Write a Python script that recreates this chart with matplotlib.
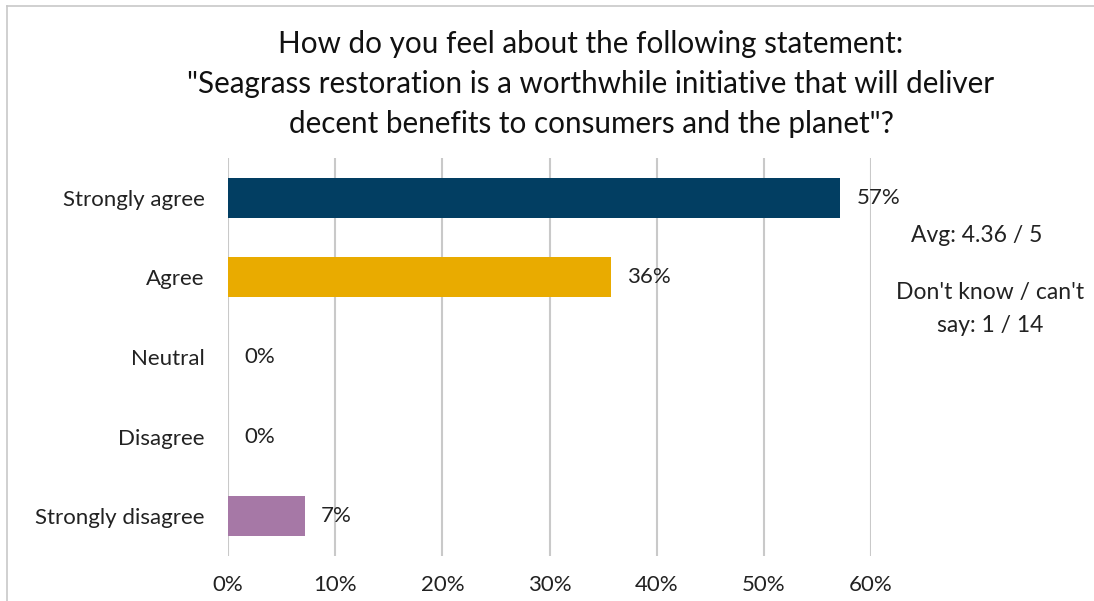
import matplotlib.pyplot as plt
from matplotlib.ticker import PercentFormatter
from matplotlib.lines import Line2D

categories = ['Strongly agree', 'Agree', 'Neutral', 'Disagree', 'Strongly disagree']
values = [57.14, 35.71, 0.0, 0.0, 7.14]
labels = ['57%', '36%', '0%', '0%', '7%']
colors = ['#023E62', '#E9AB00', '#A678A6', '#A678A6', '#A678A6']
ticks = [0, 10, 20, 30, 40, 50, 60]

plt.rcParams['font.family'] = ['Lato', 'DejaVu Sans']

fig = plt.figure(figsize=(10.94, 6.01), dpi=100)
ax = fig.add_axes([228/1094, 1-556/601, (871-228)/1094, (556-158)/601])

y = list(range(len(categories)))
ax.barh(y, values, height=0.5, color=colors, zorder=3)
for yi, v, lab in zip(y, values, labels):
    ax.text(v + 1.5, yi, lab, va='center', ha='left', fontsize=16, color='#222222', zorder=4)

ax.set_xlim(0, 60)
ax.set_ylim(len(categories)-0.5, -0.5)
ax.set_yticks(y)
ax.set_yticklabels(categories, fontsize=16, color='#222222')
ax.set_xticks(ticks)
ax.xaxis.set_major_formatter(PercentFormatter(decimals=0))
ax.tick_params(axis='x', labelsize=16, labelcolor='#222222', length=0, pad=14)
ax.tick_params(axis='y', length=0, pad=17)
ax.grid(axis='x', color='#C9C9C9', linewidth=1.5, zorder=0)
for s in ax.spines.values():
    s.set_visible(False)

fig.text(591/1094, 1-84/601,
         'How do you feel about the following statement:\n'
         '"Seagrass restoration is a worthwhile initiative that will deliver\n'
         'decent benefits to consumers and the planet"?',
         ha='center', va='center', fontsize=21.3, color='#111111', linespacing=1.52)

fig.text(977/1094, 1-235/601, 'Avg: 4.36 / 5', ha='center', va='center', fontsize=16.5, color='#222222')
fig.text(990/1094, 1-309/601, "Don't know / can't\nsay: 1 / 14", ha='center', va='center',
         fontsize=16.5, color='#222222', linespacing=1.65)

# chart border (cropped at right and bottom)
fig.add_artist(Line2D([7/1094, 7/1094], [0, 1-6/601], color='#C8C8C8', linewidth=1.2, transform=fig.transFigure))
fig.add_artist(Line2D([7/1094, 1], [1-6/601, 1-6/601], color='#C8C8C8', linewidth=1.2, transform=fig.transFigure))

fig.savefig('out.png', dpi=100)
